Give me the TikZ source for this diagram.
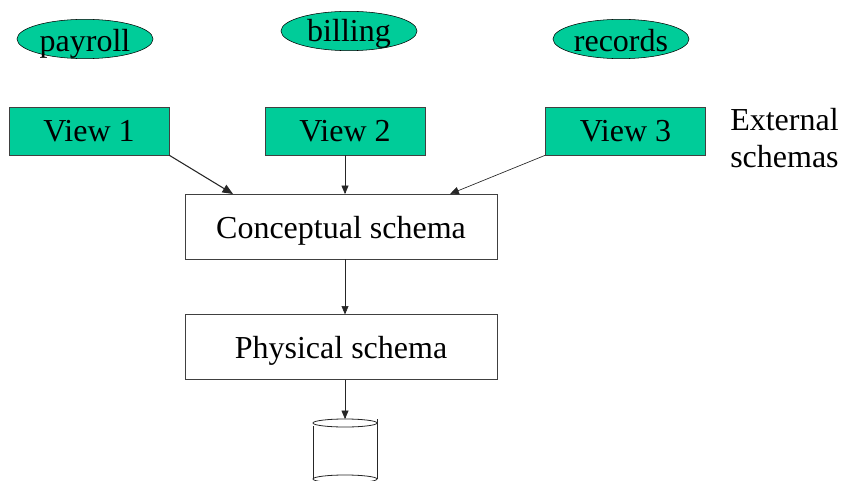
\documentclass[tikz,border=0pt]{standalone}
\usepackage{fontspec}
\setmainfont{Liberation Serif}
\usetikzlibrary{arrows,shapes}
\definecolor{viewgreen}{HTML}{00CC99}
\tikzstyle{view}=[rectangle,fill=viewgreen,draw=black!75,minimum width=120pt,minimum height=36pt,inner sep=0pt,text height=16.5pt,text depth=0pt,font=\fontsize{24}{24}\selectfont]
\tikzstyle{user}=[ellipse,fill=viewgreen,draw=black,minimum width=102pt,minimum height=29.5pt,inner sep=0pt,text depth=0pt,font=\fontsize{24}{24}\selectfont]
\tikzstyle{schema}=[rectangle,draw=black!75,minimum width=234pt,minimum height=48.5pt,inner sep=0pt,text height=17.25pt,text depth=0pt,font=\fontsize{24}{24}\selectfont]
\tikzstyle{edge} = [draw,->,>=triangle 45,black!85]
\tikzstyle{disk} = [draw=black!85,line width=0.6pt]

\begin{document}
\begin{tikzpicture}[x=0.75pt,y=-0.75pt]

    \useasboundingbox (0,0) rectangle (841,481);

    \foreach \pos/ \name / \label / \high in {{(85,39)/payroll/payroll/19pt},{(349,31)/billing/billing/16.5pt},{(621,39)/records/records/19pt}}
        \node[user,text height=\high] (\name) at \pos {\label};

    \foreach \pos/ \name / \label in {{(89,131)/view1/View 1},{(345,131)/view2/View 2},{(625.5,131)/view3/View 3}}
        \node[view] (\name) at \pos {\label};

    \node[schema] (conceptual) at (341,226.5) {Conceptual schema};
    \node[schema] (physical) at (341,347) {Physical schema};

    \node[align=left,anchor=north west,inner sep=0pt,font=\fontsize{24}{28}\selectfont] (external) at (730,108) {External\\schemas};

    % the disk, cut off by the lower edge
    \coordinate (disktop) at (345,419);
    \coordinate (conc1) at (233,194);
    \coordinate (conc2) at (345,194);
    \coordinate (conc3) at (450,194);
    \draw[disk] (345,423) ellipse (32 and 4);
    \draw[disk] (313,426) -- (313,479);
    \draw[disk] (377,419) -- (377,479);
    \draw[disk] (345,479) ellipse (32 and 4);

    % Connect the boxes
    \foreach \source/ \dest/ \width in {view1.south east/conc1/0.8pt,view2.south/conc2/0.4pt,view3.south west/conc3/0.5pt}
        \draw[edge,line width=\width] (\source) -- (\dest);
    \draw[edge] (conceptual.south -| conc2) -- (physical.north -| conc2);
    \draw[edge] (physical.south -| conc2) -- (disktop);

\end{tikzpicture}
\end{document}
